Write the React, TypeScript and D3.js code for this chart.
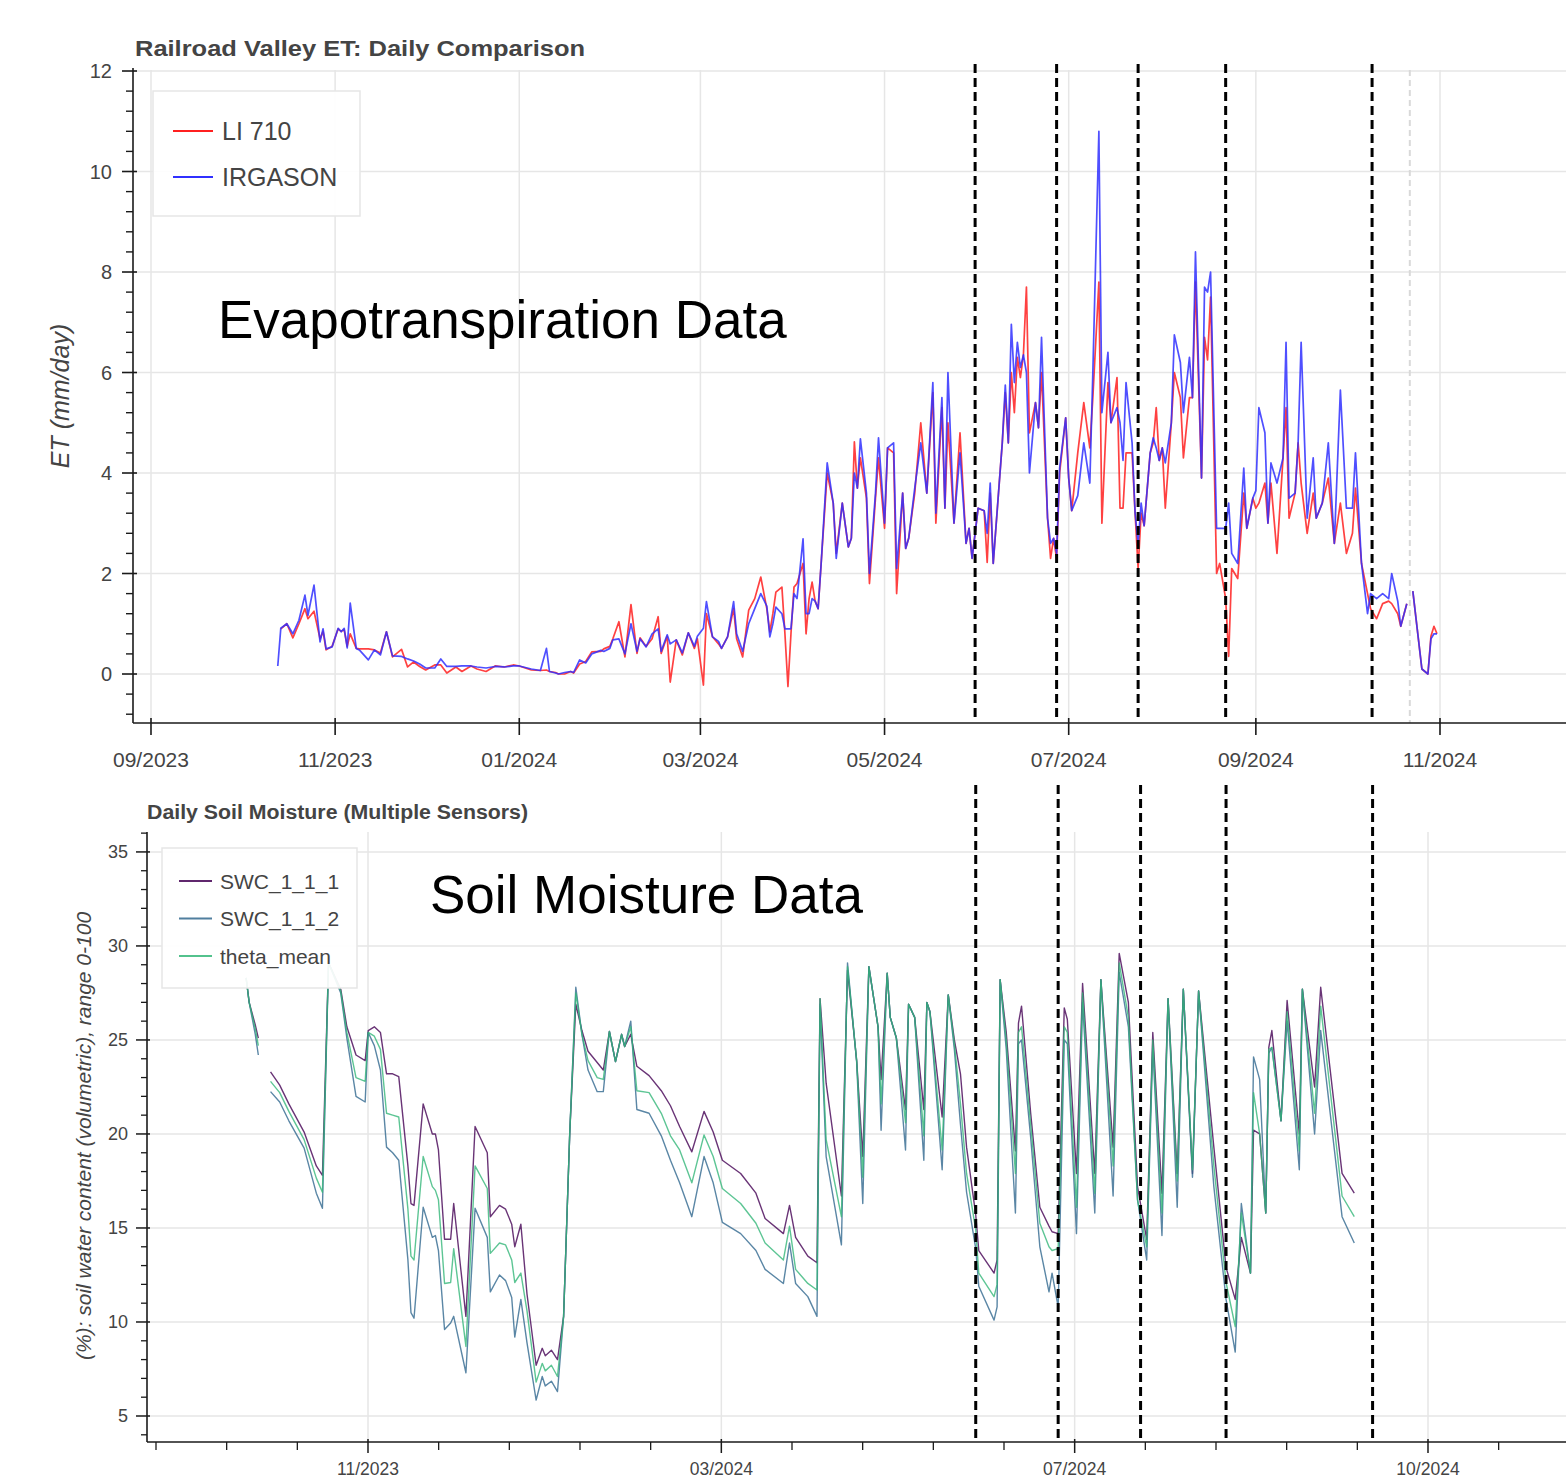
import React from "react";
import * as d3 from "d3";

const W = 1566;
const H = 1479;
const DAY_MS = 864e5;
const ORIGIN = Date.UTC(2023, 8, 1); // day offsets below are counted from 2023-09-01
const FONT = "'Liberation Sans', Arial, Helvetica, sans-serif";

// ---------- Railroad Valley ET (mm/day) ----------
const etDay = [
  42, 43, 45, 47, 49, 51, 52, 54, 56, 57,
  58, 60, 62, 63, 64, 65, 66, 68, 69, 72,
  74, 76, 78, 80, 83, 85, 87, 89, 91, 94,
  96, 98, 101, 103, 106, 108, 111, 114, 117, 120,
  122, 126, 129, 131, 132, 134, 135, 137, 139, 140,
  142, 144, 146, 149, 150, 152, 153, 155, 157, 159,
  161, 162, 164, 166, 168, 169, 171, 172, 174, 176,
  178, 180, 181, 183, 184, 186, 188, 189, 191, 193,
  194, 196, 198, 200, 202, 204, 205, 206, 207, 209,
  210, 211, 212, 213, 214, 216, 217, 218, 219, 220,
  221, 222, 224, 226, 227, 229, 231, 232, 233, 234,
  235, 237, 238, 240, 241, 243, 244, 246, 247, 249,
  250, 251, 253, 255, 257, 259, 260, 262, 263, 264,
  266, 268, 270, 271, 272, 274, 276, 277, 278, 279,
  281, 282, 283, 284, 285, 286, 287, 288, 289, 290,
  291, 293, 294, 295, 297, 298, 299, 300, 301, 303,
  304, 305, 307, 309, 311, 312, 314, 315, 317, 318,
  320, 321, 322, 323, 325, 326, 327, 328, 329, 331,
  332, 333, 334, 335, 336, 338, 339, 341, 342, 344,
  345, 346, 348, 349, 350, 351, 353, 354, 356, 357,
  358, 360, 362, 363, 365, 366, 367, 369, 370, 371,
  373, 375, 376, 377, 379, 380, 381, 383, 385, 386,
  388, 390, 392, 394, 396, 398, 399, 401, 403, 404,
  406, 408, 410, 411, 413, 414, 416, 417, 418, 421,
  423, 424, 425, 426,
];
const etLi710: (number | null)[] = [
  null, 0.9, 1.0, 0.72, 1.0, 1.3, 1.1, 1.25, 0.7, 0.85,
  0.48, 0.55, 0.9, 0.85, 0.88, 0.55, 0.8, 0.51, 0.5, 0.5,
  0.48, 0.42, 0.84, 0.34, 0.49, 0.14, 0.24, 0.15, 0.08, 0.18,
  0.18, 0.02, 0.14, 0.05, 0.16, 0.1, 0.05, 0.16, 0.14, 0.18,
  0.16, 0.08, 0.07, 0.08, 0.05, 0.03, 0.0, 0.0, 0.05, 0.02,
  0.2, 0.25, 0.44, 0.45, 0.5, 0.55, 0.7, 1.04, 0.34, 1.38,
  0.41, 0.72, 0.55, 0.7, 1.14, 0.41, 0.75, -0.16, 0.68, 0.38,
  0.82, 0.51, 0.7, -0.22, 1.2, 0.74, 0.6, 0.51, 0.74, 1.3,
  0.7, 0.34, 1.27, 1.5, 1.93, 1.3, 0.84, 1.2, 1.63, 1.73,
  0.8, -0.25, 0.8, 1.73, 1.8, 2.2, 0.8, 1.5, 1.83, 1.45,
  1.3, 2.2, 4.0, 3.4, 2.4, 3.4, 2.53, 2.7, 4.62, 3.7,
  4.3, 3.5, 1.8, 3.5, 4.3, 2.9, 4.5, 4.4, 1.6, 3.6,
  2.5, 2.7, 3.6, 5.0, 3.6, 5.6, 3.0, 5.3, 3.3, 5.0,
  3.0, 4.8, 2.6, 2.9, 2.3, 3.3, 3.25, 2.22, 3.6, 2.2,
  3.8, 4.6, 5.6, 4.6, 6.0, 5.2, 6.3, 5.9, 6.35, 7.7,
  4.8, 5.4, 4.9, 6.0, 3.1, 2.3, 2.7, 2.3, 4.0, 5.1,
  3.9, 3.25, 4.4, 5.4, 4.5, 5.5, 7.8, 3.0, 5.8, 5.0,
  5.9, 3.3, 3.3, 4.4, 4.4, 3.2, 2.1, 3.2, 2.95, 4.4,
  4.6, 5.3, 4.25, 4.5, 3.3, 5.0, 6.0, 5.5, 4.3, 5.5,
  5.5, 7.8, 3.9, 6.7, 6.25, 7.5, 2.0, 2.2, 1.5, 0.35,
  2.1, 1.9, 3.6, 2.9, 3.5, 3.3, 3.4, 3.8, 3.0, 3.8,
  2.4, 4.3, 5.3, 3.1, 3.6, 4.6, 3.8, 2.8, 3.6, 3.1,
  3.4, 3.9, 2.6, 3.4, 2.4, 2.8, 3.7, 2.2, 1.6, 1.3,
  1.1, 1.4, 1.45, 1.4, 1.2, 0.95, 1.4, null, 1.65, 0.1,
  0.0, 0.75, 0.95, 0.8,
];
const etIrgason: (number | null)[] = [
  0.16, 0.91, 1.0, 0.8, 1.07, 1.57, 1.17, 1.77, 0.64, 0.9,
  0.5, 0.54, 0.91, 0.84, 0.91, 0.52, 1.41, 0.51, 0.48, 0.28,
  0.48, 0.38, 0.84, 0.36, 0.35, 0.3, 0.26, 0.2, 0.12, 0.12,
  0.3, 0.15, 0.15, 0.16, 0.16, 0.14, 0.12, 0.15, 0.14, 0.16,
  0.16, 0.1, 0.07, 0.51, 0.05, 0.02, 0.0, 0.03, 0.05, 0.03,
  0.28, 0.22, 0.4, 0.47, 0.45, 0.51, 0.68, 0.7, 0.4, 1.0,
  0.45, 0.7, 0.54, 0.8, 0.9, 0.45, 0.78, 0.6, 0.68, 0.42,
  0.82, 0.55, 0.75, 0.91, 1.44, 0.74, 0.65, 0.51, 0.74, 1.44,
  0.8, 0.45, 1.0, 1.3, 1.6, 1.35, 0.74, 1.0, 1.33, 1.2,
  0.9, 0.9, 0.9, 1.6, 1.5, 2.69, 1.2, 1.2, 1.5, 1.45,
  1.3, 2.2, 4.2, 3.4, 2.3, 3.4, 2.53, 2.7, 4.0, 3.7,
  4.68, 3.6, 2.0, 3.6, 4.7, 3.0, 4.5, 4.6, 2.1, 3.6,
  2.5, 2.7, 3.7, 4.6, 3.6, 5.8, 3.2, 5.5, 3.3, 6.0,
  3.0, 4.4, 2.6, 2.9, 2.3, 3.3, 3.25, 2.8, 3.8, 2.2,
  3.8, 4.6, 5.75, 4.6, 6.96, 5.8, 6.6, 6.1, 6.35, 6.0,
  4.0, 5.4, 4.9, 6.7, 3.1, 2.6, 2.7, 2.4, 4.1, 5.1,
  3.9, 3.25, 3.55, 4.6, 3.8, 6.0, 10.8, 5.2, 6.4, 5.0,
  5.3, 5.0, 4.25, 5.8, 4.6, 3.2, 2.6, 3.4, 2.95, 4.4,
  4.7, 4.5, 4.25, 4.5, 4.2, 5.0, 6.75, 6.2, 5.2, 6.3,
  5.5, 8.4, 3.9, 7.7, 7.6, 8.0, 2.9, 2.9, 2.9, 3.4,
  2.4, 2.2, 4.1, 2.9, 3.5, 3.65, 5.3, 4.8, 3.0, 4.2,
  3.8, 4.3, 6.6, 3.5, 3.6, 4.6, 6.6, 3.1, 4.3, 3.1,
  3.4, 4.6, 2.6, 5.65, 3.3, 3.3, 4.4, 2.2, 1.2, 1.6,
  1.5, 1.6, 1.5, 2.0, 1.45, 0.95, 1.4, null, 1.65, 0.1,
  0.0, 0.7, 0.8, 0.8,
];
const etTickDates = ["2023-09-01", "2023-11-01", "2024-01-01", "2024-03-01", "2024-05-01", "2024-07-01", "2024-09-01", "2024-11-01"];
const etYTicks = [0, 2, 4, 6, 8, 10, 12];
const etMarkerDates = ["2024-05-31T00:00", "2024-06-27T00:00", "2024-07-24T00:00", "2024-08-22T00:00", "2024-10-09T12:00"];
const etSpanDate = "2024-10-22T00:00";

// ---------- Soil moisture (%) ----------
const swcDay = [
  35, 36, 38, 39, 41, 43, 46, 49, 54, 58,
  60, 62, 66, 68, 71, 74, 75, 77, 79, 81,
  83, 85, 88, 89, 90, 93, 96, 97, 98, 100,
  102, 103, 107, 110, 114, 115, 118, 120, 122, 123,
  125, 127, 130, 132, 133, 135, 137, 139, 141, 143,
  145, 147, 150, 152, 154, 156, 158, 159, 161, 163,
  167, 171, 174, 177, 181, 185, 188, 191, 197, 202,
  205, 211, 213, 215, 219, 222, 223, 225, 230, 232,
  235, 237, 239, 242, 243, 245, 246, 248, 251, 252,
  254, 257, 258, 259, 263, 265, 267, 269, 271, 274,
  275, 280, 281, 282, 284, 287, 288, 289, 292, 295,
  298, 299, 301, 303, 304, 307, 309, 313, 315, 319,
  321, 324, 327, 330, 332, 335, 337, 340, 342, 345,
  347, 352, 356, 359, 361, 364, 365, 367, 369, 370,
  371, 374, 376, 380, 381, 385, 387, 394, 398,
];
const swc111: (number | null)[] = [
  28.3, 27.0, 25.8, 25.1, null, 23.3, 22.6, 21.6, 20.1, 18.3,
  17.8, 29.1, 27.7, 25.7, 24.2, 23.9, 25.5, 25.7, 25.4, 23.2,
  23.2, 23.05, 18.3, 16.3, 16.2, 21.6, 20.0, 20.0, 19.15, 14.4,
  14.4, 16.3, 10.3, 20.4, 19.0, 15.6, 16.2, 16.0, 15.2, 14.0,
  15.2, 11.5, 7.7, 8.6, 8.2, 8.5, 8.0, 10.3, 20.0, 26.9,
  25.5, 24.4, 23.8, 23.4, 25.45, 23.85, 25.3, 24.65, 25.3, 23.6,
  23.1, 22.3, 21.5, 20.4, 19.05, 21.2, 20.1, 18.6, 17.9, 16.85,
  15.5, 14.7, 16.2, 14.5, 13.5, 13.15, 27.2, 22.7, 16.7, 28.7,
  23.9, 18.8, 28.9, 25.7, 22.9, 28.55, 26.2, 25.1, 21.3, 26.9,
  26.2, 21.3, 27.0, 26.5, 20.9, 27.4, 25.0, 23.2, 19.3, 15.7,
  13.8, 12.6, 13.3, 28.2, 25.4, 19.1, 25.9, 26.8, 21.1, 16.1,
  15.1, 14.8, 14.7, 26.7, 26.1, 17.9, 28.0, 17.9, 28.2, 19.3,
  29.6, 27.0, 17.2, 14.4, 25.4, 16.85, 27.2, 17.9, 27.7, 17.9,
  27.6, 19.3, 12.9, 11.2, 14.5, 12.6, 20.2, 20.0, 15.8, 24.6,
  25.5, 20.7, 27.1, 20.0, 27.7, 22.5, 27.8, 17.9, 16.85,
];
const swc112: (number | null)[] = [
  28.3, 27.0, 25.3, 24.2, null, 22.25, 21.7, 20.7, 19.25, 16.85,
  16.05, 29.1, 27.5, 25.1, 22.0, 21.7, 25.4, 24.7, 23.4, 19.3,
  19.0, 18.6, 13.3, 10.5, 10.2, 16.1, 14.5, 14.6, 13.8, 9.6,
  9.95, 10.3, 7.3, 16.05, 14.5, 11.6, 12.5, 12.2, 11.3, 9.2,
  11.2, 8.9, 5.85, 7.1, 6.6, 6.85, 6.3, 10.3, 20.0, 27.8,
  25.3, 23.4, 22.25, 22.25, 25.45, 23.85, 25.3, 24.65, 26.0, 21.3,
  21.1, 19.9, 18.6, 17.4, 15.6, 18.8, 17.4, 15.3, 14.7, 13.8,
  12.8, 12.05, 14.2, 12.05, 11.35, 10.3, 26.9, 18.8, 14.1, 29.1,
  23.8, 16.3, 28.9, 25.7, 20.2, 28.55, 26.2, 25.1, 19.15, 26.9,
  26.2, 18.6, 27.0, 26.5, 18.1, 27.4, 24.5, 20.5, 16.9, 13.9,
  11.9, 10.1, 10.8, 28.2, 24.5, 15.8, 24.8, 25.0, 19.8, 14.0,
  11.6, 12.6, 10.8, 25.0, 24.8, 14.7, 27.0, 15.8, 28.2, 16.7,
  28.6, 25.7, 16.5, 13.3, 24.6, 14.6, 27.2, 16.1, 27.7, 17.7,
  27.6, 17.2, 11.2, 8.4, 16.3, 12.6, 24.1, 22.9, 15.8, 24.3,
  24.6, 20.7, 26.0, 18.1, 27.7, 20.0, 25.5, 15.6, 14.2,
];
const thetaMean: (number | null)[] = [
  28.3, 27.0, 25.6, 24.7, null, 22.8, 22.2, 21.2, 19.7, 17.65,
  16.9, 29.1, 27.6, 25.4, 23.0, 22.8, 25.4, 25.2, 24.5, 21.1,
  21.0, 20.9, 16.0, 13.5, 13.3, 18.8, 17.2, 17.0, 16.5, 12.05,
  12.1, 13.9, 8.7, 18.3, 17.1, 13.65, 14.2, 14.1, 13.3, 12.1,
  12.6, 10.6, 6.8, 7.8, 7.4, 7.7, 7.1, 10.3, 20.0, 27.5,
  25.3, 23.9, 23.0, 22.9, 25.45, 23.85, 25.3, 24.65, 25.7, 22.3,
  22.2, 21.1, 19.9, 19.15, 17.4, 19.95, 18.8, 17.1, 16.3, 15.25,
  14.2, 13.3, 15.1, 12.8, 12.05, 11.7, 27.2, 19.7, 15.6, 28.9,
  23.9, 17.7, 28.9, 25.7, 21.6, 28.55, 26.2, 25.1, 20.6, 26.9,
  26.2, 19.9, 27.0, 26.5, 19.15, 27.4, 24.8, 21.6, 17.9, 14.9,
  12.6, 11.35, 12.0, 28.2, 25.0, 17.9, 25.4, 25.7, 20.5, 15.25,
  14.0, 13.8, 13.9, 25.7, 25.4, 16.1, 27.5, 16.85, 28.2, 18.3,
  29.1, 26.2, 16.5, 14.0, 25.0, 15.8, 27.2, 17.5, 27.7, 18.1,
  27.6, 18.3, 12.1, 9.75, 15.8, 12.6, 22.2, 20.0, 15.8, 24.5,
  24.6, 20.7, 26.5, 19.1, 27.7, 21.1, 26.8, 16.7, 15.6,
];
const swcTickMs = [1.70e12, 1.71e12, 1.72e12, 1.73e12];
const swcYTicks = [5, 10, 15, 20, 25, 30, 35];
const swcMarkerDates = ["2024-06-01T00:00", "2024-06-28T00:00", "2024-07-25T00:00", "2024-08-22T00:00", "2024-10-09T00:00"];

const etSeries = [
  { name: "LI 710", values: etLi710, color: "#ff2020" },
  { name: "IRGASON", values: etIrgason, color: "#3030ff" },
];
const swcSeries = [
  { name: "SWC_1_1_1", values: swc111, color: "#440154" },
  { name: "SWC_1_1_2", values: swc112, color: "#31688e" },
  { name: "theta_mean", values: thetaMean, color: "#35b779" },
];

const toDate = (d: number) => new Date(ORIGIN + d * DAY_MS);
const parseUtc = (s: string) => new Date(s.length === 10 ? s + "T00:00:00Z" : s + ":00Z");
const fmt = d3.utcFormat("%m/%Y");

type Pt = [Date, number | null];

export default function App() {
  const T = { left: 133, right: 1566, top: 70, bottom: 723 };
  const B = { left: 147, right: 1566, top: 832, bottom: 1442 };

  const etX = d3.scaleUtc().domain([toDate(-5.96), toDate(468.74)]).range([T.left, T.right]);
  const etY = d3.scaleLinear().domain([-0.975, 12.02]).range([T.bottom, T.top]);
  const swX = d3.scaleUtc().domain([new Date(1.6937453e12), new Date(1.7339057e12)]).range([B.left, B.right]);
  const swY = d3.scaleLinear().domain([3.617, 36.06]).range([B.bottom, B.top]);

  const etLine = d3.line<Pt>().defined((d) => d[1] != null).x((d) => etX(d[0])).y((d) => etY(d[1] as number));
  const swLine = d3.line<Pt>().defined((d) => d[1] != null).x((d) => swX(d[0])).y((d) => swY(d[1] as number));

  const etMinor = d3.range(-2, 31).filter((i) => ((i % 5) + 5) % 5 !== 0).map((i) => i * 0.4).filter((v) => v >= -0.97 && v <= 12.01);
  const swMinorY = d3.range(4, 37).filter((v) => v % 5 !== 0);
  const [d0, d1] = swX.domain().map((d) => +d);
  const swMinorX = d3.range(Math.ceil(d0 / 2e9) * 2e9, d1, 2e9).filter((v) => Math.round(v / 2e9) % 5 !== 0);

  const grid = "#e6e6e6";
  const axisC = "#1a1a1a";
  const txt = "#444";

  return (
    <svg width={W} height={H} style={{ position: "absolute", left: 0, top: 0, background: "#fff" }} fontFamily={FONT}>
      <rect width={W} height={H} fill="#fff" />

      {/* ================= TOP PANEL ================= */}
      <g>
        {etYTicks.map((v) => (
          <line key={"tg" + v} x1={T.left} x2={T.right} y1={etY(v)} y2={etY(v)} stroke={grid} strokeWidth={1.5} />
        ))}
        {etTickDates.map((s) => (
          <line key={"tv" + s} x1={etX(parseUtc(s))} x2={etX(parseUtc(s))} y1={T.top} y2={T.bottom} stroke={grid} strokeWidth={1.5} />
        ))}
        <line x1={etX(parseUtc(etSpanDate))} x2={etX(parseUtc(etSpanDate))} y1={T.top} y2={T.bottom} stroke="#d9d9d9" strokeWidth={2} strokeDasharray="6 4" />

        {etSeries.map((s) => (
          <path
            key={s.name}
            d={etLine(etDay.map((d, i) => [toDate(d), s.values[i]] as Pt)) || ""}
            fill="none"
            stroke={s.color}
            strokeOpacity={0.85}
            strokeWidth={1.7}
            strokeLinejoin="round"
          />
        ))}

        <line x1={T.left} x2={T.left} y1={T.top - 2} y2={T.bottom} stroke={axisC} strokeWidth={1.6} />
        <line x1={T.left} x2={T.right} y1={T.bottom} y2={T.bottom} stroke={axisC} strokeWidth={1.6} />
        {etYTicks.map((v) => (
          <g key={"ty" + v}>
            <line x1={T.left - 11} x2={T.left + 4} y1={etY(v)} y2={etY(v)} stroke={axisC} strokeWidth={1.6} />
            <text x={T.left - 21} y={etY(v)} dy="0.36em" textAnchor="end" fontSize={20} fill={txt}>{v}</text>
          </g>
        ))}
        {etMinor.map((v) => (
          <line key={"tm" + v} x1={T.left - 7} x2={T.left} y1={etY(v)} y2={etY(v)} stroke={axisC} strokeWidth={1.4} />
        ))}
        {etTickDates.map((s) => {
          const x = etX(parseUtc(s));
          return (
            <g key={"tx" + s}>
              <line x1={x} x2={x} y1={T.bottom - 5} y2={T.bottom + 12} stroke={axisC} strokeWidth={1.6} />
              <text x={x} y={767} textAnchor="middle" fontSize={21} fill={txt}>{fmt(parseUtc(s))}</text>
            </g>
          );
        })}

        <text x={135} y={56} fontSize={22} fontWeight="bold" fill={txt} textLength={450} lengthAdjust="spacingAndGlyphs">
          Railroad Valley ET: Daily Comparison
        </text>
        <text transform="translate(69,396) rotate(-90)" textAnchor="middle" fontSize={25} fontStyle="italic" fill={txt}>
          ET (mm/day)
        </text>

        <rect x={153} y={91} width={207} height={125} fill="#fff" fillOpacity={0.92} stroke="#e6e6e6" strokeWidth={1.5} />
        {etSeries.map((s, i) => (
          <g key={"tl" + s.name}>
            <line x1={173} x2={213} y1={131 + i * 46} y2={131 + i * 46} stroke={s.color} strokeWidth={2} />
            <text x={222} y={131 + i * 46} dy="0.36em" fontSize={25} fill={txt}>{s.name}</text>
          </g>
        ))}

        <text x={218} y={338} fontSize={53} fill="#000">Evapotranspiration Data</text>

        {etMarkerDates.map((s) => (
          <line key={"td" + s} x1={etX(parseUtc(s))} x2={etX(parseUtc(s))} y1={64} y2={722} stroke="#000" strokeWidth={3} strokeDasharray="9 5" />
        ))}
      </g>

      {/* ================= BOTTOM PANEL ================= */}
      <g>
        {swcYTicks.map((v) => (
          <line key={"bg" + v} x1={B.left} x2={B.right} y1={swY(v)} y2={swY(v)} stroke={grid} strokeWidth={1.5} />
        ))}
        {swcTickMs.map((ms) => (
          <line key={"bv" + ms} x1={swX(new Date(ms))} x2={swX(new Date(ms))} y1={B.top} y2={B.bottom} stroke={grid} strokeWidth={1.5} />
        ))}

        {swcSeries.map((s) => (
          <path
            key={s.name}
            d={swLine(swcDay.map((d, i) => [toDate(d), s.values[i]] as Pt)) || ""}
            fill="none"
            stroke={s.color}
            strokeOpacity={0.8}
            strokeWidth={1.4}
            strokeLinejoin="round"
          />
        ))}

        <line x1={B.left} x2={B.left} y1={B.top} y2={B.bottom} stroke={axisC} strokeWidth={1.6} />
        <line x1={B.left} x2={B.right} y1={B.bottom} y2={B.bottom} stroke={axisC} strokeWidth={1.6} />
        {swcYTicks.map((v) => (
          <g key={"by" + v}>
            <line x1={B.left - 11} x2={B.left + 3} y1={swY(v)} y2={swY(v)} stroke={axisC} strokeWidth={1.5} />
            <text x={B.left - 19} y={swY(v)} dy="0.36em" textAnchor="end" fontSize={18} fill={txt}>{v}</text>
          </g>
        ))}
        {swMinorY.map((v) => (
          <line key={"bm" + v} x1={B.left - 6} x2={B.left} y1={swY(v)} y2={swY(v)} stroke={axisC} strokeWidth={1.3} />
        ))}
        {swcTickMs.map((ms) => {
          const x = swX(new Date(ms));
          return (
            <g key={"bx" + ms}>
              <line x1={x} x2={x} y1={B.bottom - 3} y2={B.bottom + 11} stroke={axisC} strokeWidth={1.5} />
              <text x={x} y={1475} textAnchor="middle" fontSize={17.5} fill={txt}>{fmt(new Date(ms))}</text>
            </g>
          );
        })}
        {swMinorX.map((ms) => {
          const x = swX(new Date(ms));
          return <line key={"bmx" + ms} x1={x} x2={x} y1={B.bottom} y2={B.bottom + 8} stroke={axisC} strokeWidth={1.3} />;
        })}

        <text x={147} y={819} fontSize={20} fontWeight="bold" fill={txt} textLength={381} lengthAdjust="spacingAndGlyphs">
          Daily Soil Moisture (Multiple Sensors)
        </text>
        <text transform="translate(91,1136) rotate(-90)" textAnchor="middle" fontSize={21} fontStyle="italic" fill={txt}>
          (%): soil water content (volumetric), range 0-100
        </text>

        <rect x={162} y={848} width={195} height={140} fill="#fff" fillOpacity={0.93} stroke="#e6e6e6" strokeWidth={1.5} />
        {swcSeries.map((s, i) => (
          <g key={"bl" + s.name}>
            <line x1={179} x2={212} y1={881 + i * 37.5} y2={881 + i * 37.5} stroke={s.color} strokeOpacity={0.85} strokeWidth={1.8} />
            <text x={220} y={881 + i * 37.5} dy="0.36em" fontSize={21} fill={txt}>{s.name}</text>
          </g>
        ))}

        <text x={430} y={913} fontSize={53} fill="#000">Soil Moisture Data</text>

        {swcMarkerDates.map((s) => (
          <line key={"bd" + s} x1={swX(parseUtc(s))} x2={swX(parseUtc(s))} y1={785} y2={1442} stroke="#000" strokeWidth={3} strokeDasharray="9 5" />
        ))}
      </g>
    </svg>
  );
}
